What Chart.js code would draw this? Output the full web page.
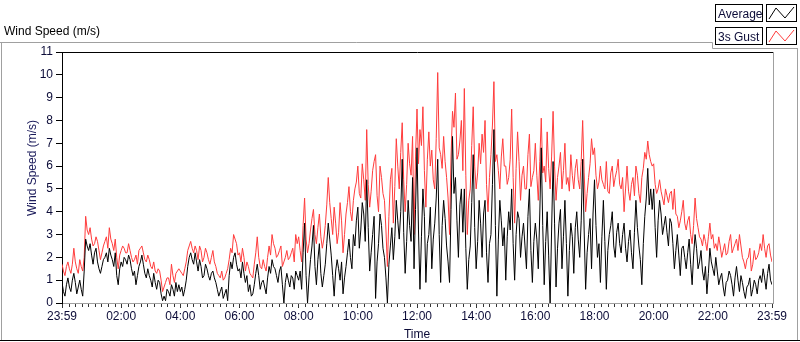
<!DOCTYPE html>
<html>
<head>
<meta charset="utf-8">
<script src="https://cdn.jsdelivr.net/npm/chart.js@4/dist/chart.umd.min.js"></script>
<style>
html, body { margin: 0; padding: 0; background: #fff; }
</style>
</head>
<body>
<canvas id="graph" width="800" height="342"></canvas>
<script>
// one sample every 3 minutes, 23:59 -> 23:59
const sampleStep = 3;
const timeLabels = ['23:59', '02:00', '04:00', '06:00', '08:00', '10:00', '12:00',
    '14:00', '16:00', '18:00', '20:00', '22:00', '23:59'];

const averageSpeed = [
    0.9,0.5, 0.3,0.8, 1.1,0.7, 0.5,1.0, 1.3,0.9, 0.4,0.7, 1.0,0.6, 0.3,1.4, 2.8,2.5, 2.3,2.6,
    2.1,1.7, 2.2,2.4, 1.8,1.5, 1.3,1.6, 1.9,2.0, 2.2,1.8, 2.4,2.1, 1.9,1.6, 2.2,1.2, 0.8,1.5,
    1.8,1.6, 2.0,1.9, 1.7,2.1, 1.9,1.5, 1.2,1.4, 0.8,1.2, 1.6,1.8, 2.1,1.7, 1.3,1.1, 1.5,1.2,
    1.0,0.7, 1.3,0.9, 0.6,1.0, 0.9,0.4, 0.1,0.3, 0.1,0.6, 0.5,0.3, 0.8,0.6, 0.3,0.9, 0.5,0.8,
    0.5,0.7, 0.3,0.6, 1.0,1.6, 2.0,2.2, 1.9,1.7, 2.2,1.8, 1.4,1.9, 1.6,1.1, 1.2,1.7, 1.5,1.2,
    1.0,1.3, 1.4,1.1, 0.9,0.6, 0.3,0.5, 0.7,0.2, 0.4,0.6, 0.1,1.2, 1.8,1.5, 2.0,2.2, 1.7,1.4,
    1.5,1.1, 1.8,1.3, 0.9,1.2, 0.5,0.8, 0.3,0.4, 0.8,1.3, 1.7,1.2, 0.6,0.9, 1.0,0.7, 0.4,1.1,
    1.6,1.3, 1.9,1.6, 1.5,1.2, 0.9,1.4, 1.6,0.8, 0.0,0.9, 1.3,1.0, 0.7,1.2, 1.1,0.6, 1.4,1.2,
    1.0,1.4, 0.6,2.2, 3.5,1.2, 0.0,1.1, 1.9,2.5, 3.4,1.6, 0.8,1.9, 2.6,1.3, 0.7,1.2, 1.7,2.6,
    3.5,2.8, 2.1,1.2, 0.3,1.4, 1.9,1.5, 1.0,1.8, 0.4,1.1, 1.6,2.2, 2.8,2.0, 1.5,3.0, 2.5,3.6,
    4.2,2.4, 3.2,4.4, 3.9,2.7, 5.4,3.3, 1.4,2.2, 3.0,3.8, 0.2,1.8, 2.6,3.9, 3.4,2.4, 2.0,1.1,
    0.0,1.7, 2.5,3.3, 1.9,2.9, 4.5,3.6, 2.8,4.0, 6.3,3.1, 1.3,2.7, 4.5,3.4, 2.7,5.5, 1.5,4.1,
    6.8,3.2, 0.6,2.9, 5.0,3.8, 0.9,2.6, 3.0,4.2, 1.5,2.8, 3.5,4.6, 6.3,3.0, 0.9,3.4, 4.5,3.7,
    2.5,1.8, 0.9,4.1, 7.3,4.8, 5.5,3.6, 2.0,4.3, 5.0,3.1, 5.0,2.4, 0.6,1.9, 2.5,4.4, 6.5,3.3,
    1.5,2.7, 4.5,3.5, 2.0,3.9, 4.5,2.2, 0.9,2.6, 3.0,5.2, 7.6,3.4, 0.3,2.8, 4.5,3.6, 2.5,3.3,
    1.0,2.9, 4.0,3.2, 5.0,2.6, 1.0,3.0, 4.0,3.7, 2.0,2.9, 3.5,2.5, 1.5,3.8, 5.0,2.3, 0.9,2.7,
    3.5,2.8, 1.5,3.9, 6.8,3.4, 0.8,2.7, 4.0,2.1, 0.0,3.2, 6.2,3.5, 0.7,2.4, 3.5,4.1, 1.5,2.9,
    4.5,2.6, 0.3,2.3, 3.5,2.9, 1.3,3.3, 4.0,2.8, 2.0,3.6, 6.3,3.2, 0.6,2.2, 3.0,3.7, 1.5,3.9,
    5.4,3.4, 2.0,2.6, 0.9,2.9, 4.5,2.7, 0.6,2.3, 3.0,3.4, 4.0,2.5, 2.0,3.1, 3.5,2.6, 2.2,3.0,
    3.5,2.4, 1.8,2.7, 3.2,2.2, 1.5,3.1, 4.5,3.3, 2.5,1.9, 0.8,2.6, 3.8,4.6, 5.9,4.3, 5.0,4.1,
    5.0,3.3, 2.0,3.6, 4.5,3.9, 3.0,3.4, 3.8,3.1, 2.5,3.7, 3.5,2.6, 1.5,2.3, 3.0,2.1, 1.2,2.4,
    2.5,2.0, 1.5,2.2, 2.8,1.7, 0.8,2.1, 3.0,2.4, 1.5,1.8, 2.3,1.4, 1.0,1.6, 0.4,1.3, 2.4,1.8,
    1.5,1.2, 2.0,1.4, 0.8,1.1, 1.3,0.7, 0.3,0.9, 1.0,1.4, 1.2,0.8, 0.3,1.1, 1.6,1.0, 0.5,1.2,
    0.9,0.5, 0.2,0.7, 0.8,1.1, 0.3,0.6, 1.0,0.8, 0.4,1.0, 1.2,0.9, 1.5,1.1, 0.6,1.3, 1.7,1.0,
    0.8
];

const gustSpeed = [
    1.7,1.4, 1.2,1.6, 1.8,1.5, 1.3,1.7, 2.4,1.8, 1.5,1.3, 1.9,1.6, 1.4,2.0, 3.8,3.2, 3.0,3.3,
    2.8,2.5, 2.6,2.9, 2.7,2.3, 1.9,2.2, 2.5,2.7, 2.9,2.4, 3.3,2.8, 2.6,2.3, 2.8,2.0, 1.5,2.1,
    2.3,2.5, 2.4,2.2, 2.2,2.6, 2.3,2.0, 1.8,1.9, 2.1,1.7, 2.3,2.4, 2.5,2.2, 1.9,1.8, 2.1,1.9,
    1.6,1.5, 1.8,1.4, 1.3,1.5, 1.4,1.0, 0.5,0.7, 0.9,1.1, 1.1,0.8, 1.7,1.2, 0.9,1.3, 1.4,1.5,
    1.4,1.3, 1.2,1.5, 1.8,2.3, 2.5,2.7, 2.4,2.2, 2.5,2.3, 1.9,2.5, 2.3,1.8, 2.0,2.4, 2.2,1.9,
    1.7,2.0, 2.3,1.8, 1.6,1.3, 1.2,1.1, 1.4,1.0, 1.1,1.3, 1.5,1.9, 2.4,2.2, 3.0,2.8, 2.6,2.1,
    2.2,1.8, 2.4,2.0, 1.4,1.8, 1.6,1.3, 1.2,1.1, 1.7,2.2, 2.9,2.0, 1.6,1.5, 1.9,1.6, 1.4,2.0,
    2.5,2.1, 3.0,2.6, 2.4,2.0, 2.1,2.3, 2.5,1.6, 1.8,2.0, 2.3,1.9, 2.0,2.2, 2.4,1.8, 3.0,2.6,
    2.9,2.3, 1.8,3.4, 4.6,2.8, 2.2,2.6, 3.2,3.7, 4.1,3.0, 2.6,3.3, 3.9,2.9, 2.4,2.8, 3.4,4.3,
    5.5,4.4, 3.7,3.0, 4.2,3.5, 2.6,3.1, 4.4,3.6, 2.2,3.0, 3.9,4.4, 5.1,4.0, 3.6,4.5, 5.0,5.3,
    6.0,4.8, 4.6,6.1, 5.4,4.5, 7.6,5.2, 4.2,4.9, 5.8,6.2, 6.5,4.7, 4.0,6.0, 5.5,4.8, 4.5,3.2,
    1.6,3.8, 5.4,5.9, 3.5,5.1, 7.2,6.0, 5.0,6.6, 7.9,5.4, 4.0,5.2, 7.0,6.1, 5.6,7.3, 3.0,6.4,
    8.5,6.1, 7.6,6.9, 8.6,5.8, 4.2,6.3, 7.5,6.0, 6.7,5.4, 5.0,7.2, 10.1,6.8, 6.5,5.9, 7.3,6.2,
    5.5,4.6, 3.0,6.4, 8.4,7.7, 9.2,6.3, 6.5,7.1, 8.0,5.8, 9.4,5.6, 3.0,4.5, 5.0,6.9, 8.6,6.0,
    5.0,5.7, 7.0,6.1, 7.4,6.6, 8.0,5.2, 4.0,5.5, 6.5,7.8, 9.7,6.2, 6.5,5.8, 5.0,6.4, 7.2,6.0,
    6.0,5.2, 5.5,6.3, 8.5,5.5, 3.5,5.9, 7.5,6.2, 4.5,5.6, 6.0,5.0, 5.0,6.5, 7.4,5.1, 5.5,5.8,
    7.0,5.6, 4.5,6.2, 8.1,5.7, 6.0,5.3, 7.5,5.9, 5.0,6.4, 8.4,6.0, 4.5,5.5, 6.0,6.6, 5.0,5.8,
    7.0,5.2, 5.5,4.9, 6.5,5.6, 5.0,5.9, 6.3,5.4, 5.0,6.2, 8.0,5.7, 4.0,4.8, 5.5,6.1, 7.2,6.5,
    6.8,5.6, 5.0,5.3, 6.0,5.4, 5.2,5.0, 6.2,4.9, 4.8,5.7, 6.0,5.1, 5.5,5.8, 6.3,5.2, 5.0,5.5,
    4.0,5.0, 6.0,4.9, 4.5,5.2, 5.5,4.7, 6.0,5.6, 4.8,4.4, 5.5,5.9, 6.6,6.3, 7.1,6.5, 6.2,6.0,
    6.1,5.2, 4.8,5.0, 5.4,4.9, 4.6,4.3, 5.0,4.7, 4.4,4.8, 4.9,4.1, 5.0,3.9, 3.8,3.3, 3.6,4.0,
    4.5,3.5, 3.2,3.6, 3.8,3.0, 2.6,3.4, 4.6,3.7, 3.3,2.9, 2.8,2.5, 3.0,2.7, 2.3,2.9, 3.5,2.8,
    3.0,2.4, 2.6,2.3, 2.9,2.5, 2.0,2.3, 2.6,2.1, 2.2,2.7, 3.0,2.2, 2.4,2.6, 2.8,2.3, 3.0,2.5,
    2.0,1.8, 1.5,1.9, 2.0,2.4, 1.4,1.7, 2.3,1.9, 2.0,2.2, 2.6,2.3, 3.0,2.4, 2.0,2.5, 2.6,2.1,
    1.8
];

const seriesNames = ['Average', '3s Gust'];
const seriesColors = ['#000000', '#ff3c3c'];

const toPoints = arr => arr.map((v, i) => ({ x: i * sampleStep, y: v }));

const FONT = 'Liberation Sans, Arial, sans-serif';
const TEXT = '#0c0c38';

// LabVIEW-ish panel: frame lines, title, legend, minor ticks
const panel = {
    id: 'panel',
    beforeDraw(chart) {
        const ctx = chart.ctx;
        ctx.save();
        ctx.fillStyle = '#fff';
        ctx.fillRect(0, 0, chart.width, chart.height);
        ctx.restore();
    },
    afterDraw(chart) {
        const ctx = chart.ctx;
        const a = chart.chartArea;
        const xs = chart.scales.x;
        ctx.save();
        ctx.lineWidth = 1;

        // outer frame
        ctx.strokeStyle = '#a0a0a0';
        ctx.beginPath();
        ctx.moveTo(0, 42.5); ctx.lineTo(712.5, 42.5);
        ctx.lineTo(712.5, 48.5); ctx.lineTo(798, 48.5);
        ctx.moveTo(1.5, 42); ctx.lineTo(1.5, 340);
        ctx.moveTo(797.5, 48); ctx.lineTo(797.5, 340);
        ctx.stroke();
        ctx.strokeStyle = '#000';
        ctx.beginPath();
        ctx.moveTo(0, 340.5); ctx.lineTo(800, 340.5);
        ctx.stroke();

        // plot frame: top black, right gray
        ctx.beginPath();
        ctx.moveTo(a.left, a.top + 0.5); ctx.lineTo(a.right + 1, a.top + 0.5);
        ctx.stroke();
        ctx.strokeStyle = '#a0a0a0';
        ctx.beginPath();
        ctx.moveTo(a.right + 1.5, a.top); ctx.lineTo(a.right + 1.5, a.bottom + 1);
        ctx.stroke();

        // minor ticks on time axis
        ctx.strokeStyle = '#333';
        const minor = 120 / 9;
        for (let k = 1; k < 108; k++) {
            if (k % 9 === 0) continue;
            const px = Math.round(xs.getPixelForValue(k * minor)) + 0.5;
            ctx.beginPath();
            ctx.moveTo(px, a.bottom + 1); ctx.lineTo(px, a.bottom + 4);
            ctx.stroke();
        }

        // panel title
        ctx.fillStyle = '#000';
        ctx.font = '12px ' + FONT;
        ctx.textBaseline = 'alphabetic';
        ctx.textAlign = 'left';
        ctx.fillText('Wind Speed (m/s)', 4, 35);

        // y axis title
        ctx.save();
        ctx.translate(36, 168);
        ctx.rotate(-Math.PI / 2);
        ctx.textAlign = 'center';
        ctx.fillStyle = '#1a1a5a';
        ctx.fillText('Wind Speed (m/s)', 0, 0);
        ctx.restore();

        // x axis title
        ctx.textAlign = 'center';
        ctx.fillStyle = TEXT;
        ctx.fillText('Time', (a.left + a.right) / 2, 338);

        // legend
        seriesNames.forEach((name, i) => {
            const top = 4 + i * 23;
            ctx.strokeStyle = '#000';
            ctx.strokeRect(715.5, top + 0.5, 47, 17);
            ctx.strokeRect(766.5, top + 0.5, 30, 17);
            ctx.fillStyle = TEXT;
            ctx.textAlign = 'left';
            ctx.fillText(name, 718, top + 14);
            ctx.strokeStyle = seriesColors[i];
            ctx.beginPath();
            ctx.moveTo(769, top + 15);
            ctx.lineTo(776, top + 4);
            ctx.lineTo(785, top + 14);
            ctx.lineTo(794, top + 3);
            ctx.stroke();
        });
        ctx.restore();
    }
};

const ctx = document.getElementById('graph').getContext('2d');
new Chart(ctx, {
    type: 'line',
    data: {
        datasets: [{
            label: seriesNames[0],
            data: toPoints(averageSpeed),
            borderColor: seriesColors[0],
            borderWidth: 1,
            pointRadius: 0,
            tension: 0
        }, {
            label: seriesNames[1],
            data: toPoints(gustSpeed),
            borderColor: seriesColors[1],
            borderWidth: 1,
            pointRadius: 0,
            tension: 0
        }]
    },
    options: {
        responsive: false,
        animation: false,
        devicePixelRatio: 1,
        layout: { padding: { left: 0, top: 52, right: 28, bottom: 0 } },
        plugins: {
            legend: { display: false },
            tooltip: { enabled: false }
        },
        scales: {
            x: {
                type: 'linear',
                min: 0,
                max: 1440,
                afterFit: s => { s.height = 39; },
                afterBuildTicks: s => {
                    s.ticks = timeLabels.map((t, i) => ({ value: i * 120 }));
                },
                ticks: {
                    autoSkip: false,
                    maxRotation: 0,
                    color: TEXT,
                    font: { family: FONT, size: 12 },
                    padding: 1,
                    callback: (v, i) => timeLabels[i]
                },
                grid: {
                    drawOnChartArea: false,
                    tickLength: 5,
                    color: '#333'
                },
                border: { color: '#a0a0a0' }
            },
            y: {
                min: 0,
                max: 11,
                afterFit: s => { s.width = 62; },
                ticks: {
                    stepSize: 1,
                    color: TEXT,
                    font: { family: FONT, size: 12 },
                    padding: 3
                },
                grid: {
                    drawOnChartArea: false,
                    tickLength: 6,
                    color: '#000'
                },
                border: { color: '#000' }
            }
        }
    },
    plugins: [panel]
});
</script>
</body>
</html>
